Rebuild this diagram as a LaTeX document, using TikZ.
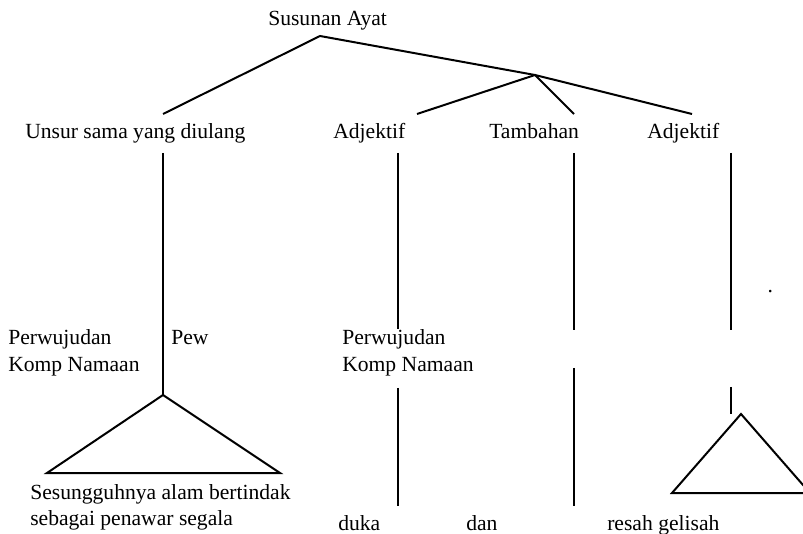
\documentclass[tikz,border=0pt]{standalone}
\usepackage{fontspec}
\setmainfont{Liberation Serif}
\begin{document}
\begin{tikzpicture}[x=0.75pt,y=-0.75pt,
  lbl/.style={anchor=base west,inner sep=0pt,font=\fontsize{16.2}{20.25}\selectfont},
  ln/.style={line width=1.5pt}]
\useasboundingbox (0,0) rectangle (803,534);
\clip (0,0) rectangle (803,534);
% texts
\node[lbl] (top) at (268,26) {Susunan Ayat};
\node[lbl] (unsur) at (25,139) {Unsur sama yang diulang};
\node[lbl] (adj1) at (333,139) {Adjektif};
\node[lbl] (tamb) at (489,139) {Tambahan};
\node[lbl] (adj2) at (647,139) {Adjektif};
\node[lbl] (perw1) at (8,345) {Perwujudan};
\node[lbl] (komp1) at (8,372) {Komp Namaan};
\node[lbl] (pew) at (171,345) {Pew};
\node[lbl] (perw2) at (342,345) {Perwujudan};
\node[lbl] (komp2) at (342,372) {Komp Namaan};
\node[lbl] (ses1) at (30,499) {Sesungguhnya alam bertindak};
\node[lbl] (ses2) at (30,525) {sebagai penawar segala};
\node[lbl] (duka) at (338,530) {duka};
\node[lbl] (dan) at (466,530) {dan};
\node[lbl] (resah) at (607,530) {resah gelisah};
\node[lbl] (dot) at (767.3,292.5) {.};
% tree points
\coordinate (root) at (320,36);
\coordinate (jn) at (535,75);
\coordinate (eU) at (163,114);
\coordinate (eA1) at (417,114);
\coordinate (eT) at (574,114);
\coordinate (eA2) at (692,114);
\draw[ln] (eU) -- (root) -- (jn) -- (eA2);
\draw[ln] (eA1) -- (jn) -- (eT);
% vertical lines
\coordinate (v1t) at (163,153);
\coordinate (t1a) at (163,395);
\coordinate (t1l) at (47,473);
\coordinate (t1r) at (280,473);
\draw[ln] (v1t) -- (t1a);
\draw[ln] (t1a) -- (t1l) -- (t1r) -- cycle;
\coordinate (v2a) at (398,153);
\coordinate (v2b) at (398,329);
\coordinate (v2c) at (398,388);
\coordinate (v2d) at (398,506);
\draw[ln] (v2a) -- (v2b);
\draw[ln] (v2c) -- (v2d);
\coordinate (v3a) at (574,153);
\coordinate (v3b) at (574,330);
\coordinate (v3c) at (574,368);
\coordinate (v3d) at (574,506);
\draw[ln] (v3a) -- (v3b);
\draw[ln] (v3c) -- (v3d);
\coordinate (v4a) at (731,153);
\coordinate (v4b) at (731,330);
\coordinate (v4c) at (731,387);
\coordinate (v4d) at (731,414);
\draw[ln] (v4a) -- (v4b);
\draw[ln] (v4c) -- (v4d);
\coordinate (t2a) at (741,414);
\coordinate (t2l) at (672,493);
\coordinate (t2r) at (810,493);
\draw[ln] (t2a) -- (t2l) -- (t2r) -- cycle;
\end{tikzpicture}
\end{document}
